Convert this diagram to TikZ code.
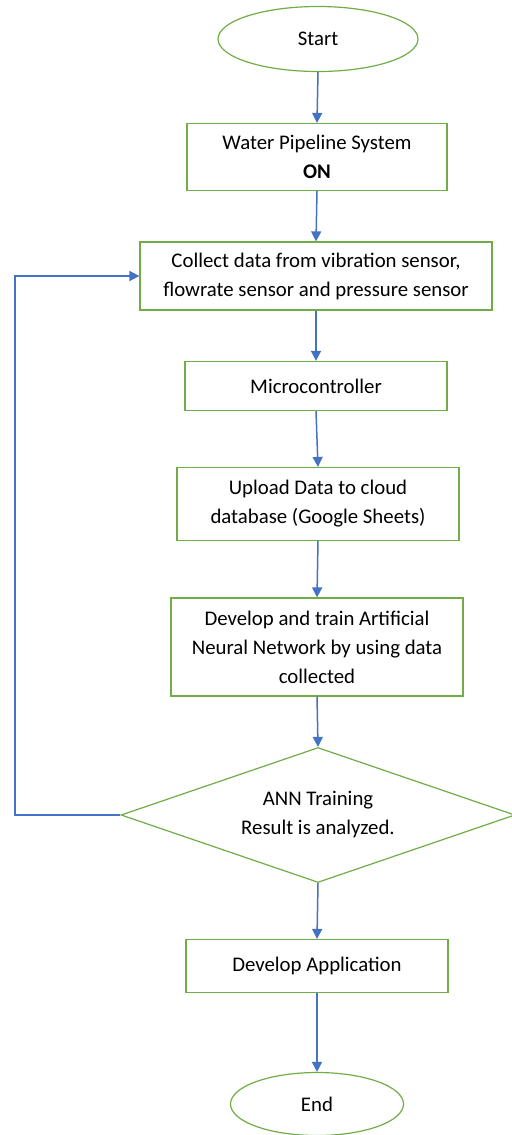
\documentclass[tikz,border=0pt]{standalone}
\usepackage{fontspec}
\setmainfont{Carlito}
\usepackage{tikz}
\usetikzlibrary{shapes.geometric, arrows.meta, positioning}
\definecolor{boxgreen}{HTML}{70AD47}
\definecolor{arrowblue}{HTML}{4472C4}
\tikzstyle{arrow}     = [draw=arrowblue, line width=0.75pt, -{Triangle[width=5pt,length=5pt]}]
\tikzstyle{block}     = [rectangle, draw=boxgreen, line width=0.6pt, text centered, inner sep=2pt]
\tikzstyle{terminal}  = [ellipse, draw=boxgreen, line width=0.6pt, inner sep=0pt]
\tikzstyle{decision}  = [diamond, aspect=2.9, draw=boxgreen, line width=0.6pt, inner sep=0pt]
\tikzset{every node/.style={align=center, font=\fontsize{10.4}{14.5}\selectfont}}

\begin{document}
\begin{tikzpicture}[x=0.5pt, y=-0.5pt]
    \useasboundingbox (0,0) rectangle (512,1135);
    \node (start)   at (318, 39)   [terminal, minimum width=100pt, minimum height=32.5pt] {Start};
    \node (pipe)    at (317, 157)  [block, minimum width=130pt, minimum height=33.5pt]
          {Water Pipeline System\\\textbf{ON}};
    \node (collect) at (316, 276)  [block, minimum width=176pt, minimum height=34pt]
          {Collect data from vibration sensor,\\flowrate sensor and pressure sensor};
    \node (micro)   at (316, 386)  [block, minimum width=131pt, minimum height=24.5pt] {Microcontroller};
    \node (upload)  at (318, 504)  [block, minimum width=141pt, minimum height=36.5pt]
          {Upload Data to cloud\\database (Google Sheets)};
    \node (ann)     at (317, 647)  [block, minimum width=146pt, minimum height=49pt]
          {Develop and train Artificial\\Neural Network by using data\\collected};
    \node (result)  at (318, 815)  [decision, minimum width=197pt, minimum height=67.5pt]
          {ANN Training\\Result is analyzed.};
    \node (app)     at (317, 966)  [block, minimum width=131pt, minimum height=26.5pt] {Develop Application};
    \node (stop)    at (317, 1104) [terminal, minimum width=86.5pt, minimum height=31.5pt] {End};
    \coordinate (loop) at (15, 815);

    \draw [arrow] (start.south)   -- (pipe.north);
    \draw [arrow] (pipe.south)    -- (collect.north);
    \draw [arrow] (collect.south) -- (micro.north);
    \draw [arrow] (micro.south)   -- (upload.north);
    \draw [arrow] (upload.south)  -- (ann.north);
    \draw [arrow] (ann.south)     -- (result.north);
    \draw [arrow] (result.south)  -- (app.north);
    \draw [arrow] (app.south)     -- (stop.north);
    \draw [arrow] (result.west) -- (loop) |- (collect.west);
\end{tikzpicture}
\end{document}
